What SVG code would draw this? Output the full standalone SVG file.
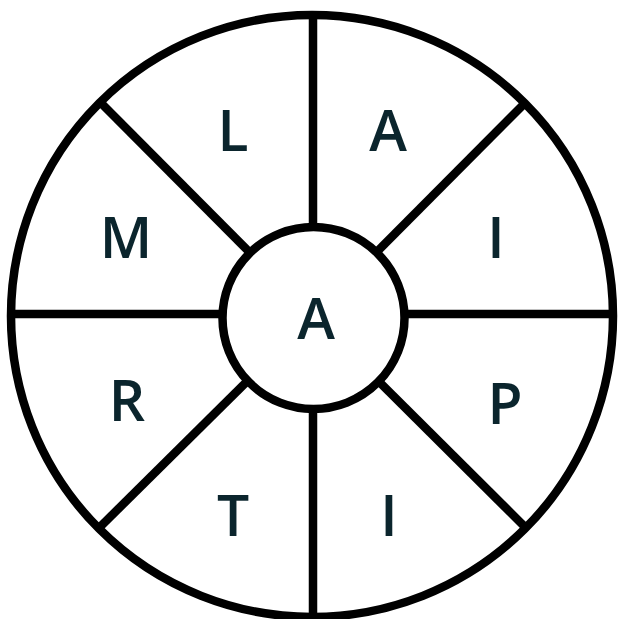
<svg xmlns="http://www.w3.org/2000/svg" width="618" height="619" viewBox="0 0 618 619">
<style>
.ln{stroke:#000;stroke-width:8.5;fill:none}
.lb{font-family:"Open Sans","Liberation Sans",sans-serif;font-weight:600;font-size:57px;fill:#0b252d;text-anchor:middle}
</style>
<rect width="618" height="619" fill="#fff"/>
<g id="connectors">
<line class="ln" x1="313" y1="14" x2="313" y2="618"/>
<line class="ln" x1="10" y1="314" x2="614" y2="314"/>
<line class="ln" x1="101" y1="103" x2="313" y2="316"/>
<line class="ln" x1="524" y1="104" x2="313" y2="316"/>
<line class="ln" x1="101" y1="526" x2="313" y2="316"/>
<line class="ln" x1="527" y1="529" x2="313" y2="316"/>
</g>
<g id="outer"><circle class="ln" cx="312" cy="316" r="301"/></g>
<g id="center"><circle cx="313.5" cy="318" r="91" fill="#fff" stroke="#000" stroke-width="8.5"/><text class="lb" x="316" y="339">A</text></g>
<g id="seg-L"><text class="lb" x="233" y="151">L</text></g>
<g id="seg-A"><text class="lb" x="388" y="151">A</text></g>
<g id="seg-M"><text class="lb" x="126" y="258">M</text></g>
<g id="seg-I1"><text class="lb" x="496" y="258">I</text></g>
<g id="seg-R"><text class="lb" x="127" y="421">R</text></g>
<g id="seg-P"><text class="lb" x="505" y="424">P</text></g>
<g id="seg-T"><text class="lb" x="233" y="536">T</text></g>
<g id="seg-I2"><text class="lb" x="389" y="536">I</text></g>
</svg>
